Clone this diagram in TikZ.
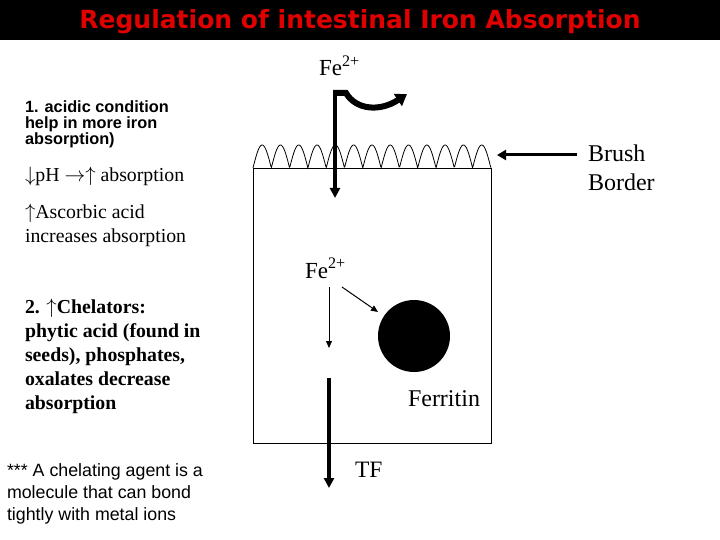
\documentclass[tikz,border=0pt]{standalone}
\usepackage{fontspec}
\setmainfont{Liberation Serif}
\setsansfont{Liberation Sans}
\newfontfamily\titlefont{DejaVu Sans}
\usetikzlibrary{arrows.meta}
\definecolor{titlered}{RGB}{225,0,0}

\begin{document}
\begin{tikzpicture}[x=1pt,y=-1pt,
        every node/.style={inner sep=0pt,outer sep=0pt},
        lbl/.style={anchor=base west,font=\fontsize{23}{26}\selectfont},
        note/.style={anchor=base west,align=left},
        thickarrow/.style={line width=4pt,-{Triangle[length=10pt,width=10pt]}},
        thinarrow/.style={line width=1pt,-{Triangle[length=7pt,width=6pt]}}]
        \useasboundingbox (0,0) rectangle (720,540);
        % title bar
        \fill[black] (0,0) rectangle (720,40);
        \node[anchor=base,text=titlered,font=\titlefont\bfseries\fontsize{25}{25}\selectfont] (title) at (360,29) {Regulation of intestinal Iron Absorption};

        % cell with brush border
        \coordinate (cellNW) at (253,168);
        \coordinate (cellSE) at (491,443);
        \draw[line width=0.8pt] (cellNW) rectangle (cellSE);
        \draw[line width=0.8pt] plot[domain=253:491,samples=400] (\x,{168-23*abs(sin((\x-253)/18.3*180))});

        % iron entering the cell
        \node[lbl] (feout) at (319,76) {Fe\textsuperscript{2+}};
        \coordinate (inTop) at (335,90);
        \coordinate (inEnd) at (335,198);
        \draw[thickarrow] (inTop) -- (inEnd);
        \draw[line width=6pt,-{Triangle[length=11pt,width=14pt]}] (333,93) -- (346,93) .. controls (356,110) and (380,112) .. (407,94);

        % brush border label (base = last line)
        \node[note,font=\fontsize{24}{29}\selectfont] (brush) at (588,191) {Brush\\Border};
        \coordinate (brushTail) at (577,155);
        \coordinate (brushHead) at (497,155);
        \draw[line width=3pt,-{Triangle[length=9pt,width=10pt]}] (brushTail) -- (brushHead);

        % inside the cell
        \node[lbl] (fein) at (305,278) {Fe\textsuperscript{2+}};
        \node[circle,fill=black,minimum size=72pt] (ferritin) at (414,336) {};
        \node[lbl,font=\fontsize{24}{26}\selectfont] (ferritinlbl) at (408,406) {Ferritin};
        \coordinate (down1) at (329,287);
        \coordinate (down2) at (329,348);
        \draw[thinarrow] (down1) -- (down2);
        \coordinate (diag1) at (342,287);
        \coordinate (diag2) at (378,312);
        \draw[thinarrow] (diag1) -- (diag2);
        \coordinate (outTop) at (329,378);
        \coordinate (outEnd) at (329,488);
        \draw[thickarrow] (outTop) -- (outEnd);
        \node[lbl,font=\fontsize{23.5}{26}\selectfont] (tf) at (355,477) {TF};

        % notes on the left
        \node[note,font=\sffamily\bfseries\fontsize{16.3}{16}\selectfont] (acid) at (25,145) {1. acidic condition\\help in more iron\\absorption)};
        \node[note,font=\fontsize{19.8}{24}\selectfont] (ph) at (25,182) {$\downarrow$pH $\rightarrow\uparrow$ absorption};
        \node[note,font=\fontsize{19.8}{24}\selectfont] (ascorbic) at (25,242) {$\uparrow$Ascorbic acid\\increases absorption};
        \node[note,font=\bfseries\fontsize{19.8}{24}\selectfont] (chelators) at (25,409) {2. $\uparrow$Chelators:\\phytic acid (found in\\seeds), phosphates,\\oxalates decrease\\absorption};
        \node[note,font=\sffamily\fontsize{17.8}{22}\selectfont] (chelnote) at (7,520) {*** A chelating agent is a\\molecule that can bond\\tightly with metal ions};
    \end{tikzpicture}
\end{document}
